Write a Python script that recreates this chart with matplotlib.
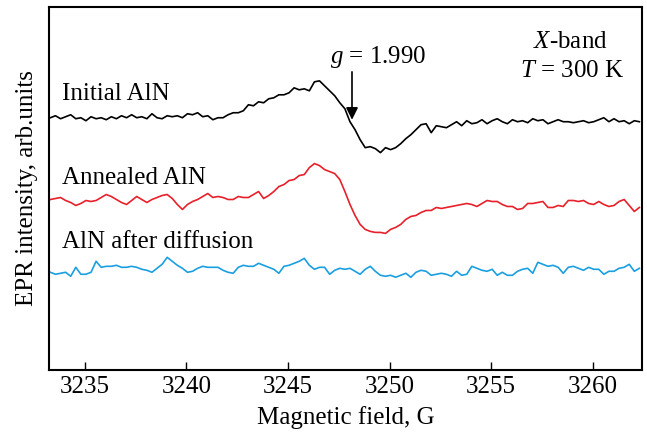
import numpy as np
import matplotlib
matplotlib.use("Agg")
import matplotlib.pyplot as plt

plt.rcParams['font.family'] = 'Liberation Serif'
plt.rcParams['mathtext.fontset'] = 'custom'
plt.rcParams['mathtext.rm'] = 'Liberation Serif'
plt.rcParams['mathtext.it'] = 'Liberation Serif:italic'

# field sweep, G (0.25 G step)
field = np.linspace(3233.3, 3262.3, 117)

# EPR traces, arb. units (already offset vertically)
initial = [253, 255, 252, 254, 256, 252, 253, 250, 254, 252,
           253, 251, 254, 252, 255, 253, 256, 253, 254, 252,
           257, 253, 252, 255, 254, 255, 253, 257, 256, 258,
           254, 255, 251, 253, 253, 256, 258, 258, 260, 266,
           265, 269, 268, 272, 273, 276, 276, 278, 283, 281,
           282, 280, 289, 290, 285, 280, 275, 268, 262, 249,
           241, 231, 223, 224, 222, 218, 223, 221, 223, 227,
           232, 236, 241, 246, 247, 238, 245, 244, 243, 246,
           249, 245, 250, 247, 248, 251, 247, 250, 252, 249,
           247, 251, 249, 250, 248, 252, 250, 251, 247, 249,
           251, 249, 249, 248, 249, 250, 248, 249, 251, 253,
           249, 252, 249, 250, 247, 250, 249]

annealed = [171, 172, 173, 170, 168, 165, 167, 170, 169, 170,
            173, 176, 174, 171, 168, 166, 170, 174, 171, 168,
            171, 173, 175, 176, 172, 166, 161, 166, 169, 171,
            174, 177, 173, 174, 173, 171, 171, 174, 173, 173,
            176, 179, 172, 175, 179, 184, 186, 190, 191, 195,
            196, 203, 207, 205, 201, 199, 197, 191, 179, 166,
            155, 146, 141, 139, 138, 138, 137, 141, 143, 146,
            151, 154, 155, 158, 160, 160, 163, 162, 163, 164,
            165, 166, 167, 166, 164, 167, 170, 169, 169, 166,
            164, 164, 161, 162, 167, 167, 168, 169, 163, 163,
            165, 164, 170, 170, 169, 170, 167, 166, 169, 166,
            164, 165, 169, 171, 165, 159, 163]

diffused = [98, 96, 97, 98, 94, 103, 96, 96, 98, 109,
            103, 104, 104, 105, 103, 103, 104, 103, 101, 100,
            98, 102, 106, 113, 109, 105, 102, 98, 99, 102,
            104, 103, 103, 103, 100, 98, 97, 103, 105, 104,
            104, 107, 105, 103, 101, 97, 104, 105, 107, 109,
            112, 105, 101, 103, 103, 96, 100, 102, 101, 102,
            99, 96, 101, 104, 99, 95, 94, 95, 93, 95,
            97, 93, 98, 100, 99, 95, 96, 97, 96, 94,
            99, 95, 96, 104, 102, 100, 99, 101, 95, 98,
            95, 95, 99, 101, 102, 97, 108, 106, 104, 105,
            103, 97, 103, 104, 102, 100, 103, 101, 101, 96,
            99, 99, 102, 103, 106, 99, 102]

labels = ["Initial AlN", "Annealed AlN", "AlN after diffusion"]
colors = ["black", "#e8202a", "#1a9fe0"]
g_field = 3248.15

fig = plt.figure(figsize=(6.47, 4.41), dpi=100)
ax = fig.add_axes([0.0757, 0.161, 0.9166, 0.823])

for y, c in zip([initial, annealed, diffused], colors):
    ax.plot(field, y, color=c, lw=1.2)

# trace labels
ax.text(3233.87, 271, labels[0], fontsize=18, va='baseline')
ax.text(3233.87, 187, labels[1], fontsize=18, va='baseline')
ax.text(3233.87, 122, labels[2], fontsize=18, va='baseline')

ax.text(3247.07, 308, r"$g$ = 1.990", fontsize=18, va='baseline')
ax.annotate("", xy=(g_field, 251), xytext=(g_field, 299),
            arrowprops=dict(arrowstyle='-|>', color='black', lw=1.2,
                            mutation_scale=18, shrinkA=0, shrinkB=0))

ax.text(3258.9, 323, r"$X$-band", fontsize=18, va='baseline', ha='center')
ax.text(3259.0, 294, r"$T$ = 300 K", fontsize=18, va='baseline', ha='center')

ax.set_xlim(3233.23, 3262.43)
ax.set_ylim(0, 364)
ax.set_xticks([3235, 3240, 3245, 3250, 3255, 3260])
ax.set_yticks([])
ax.tick_params(axis='x', direction='in', length=6, width=1, labelsize=18, pad=4)
for s in ax.spines.values():
    s.set_linewidth(1.5)

ax.set_xlabel("Magnetic field, G", fontsize=18, labelpad=6)
ax.set_ylabel("EPR intensity, arb.units", fontsize=18, labelpad=8)

fig.savefig("out.png", dpi=100)
